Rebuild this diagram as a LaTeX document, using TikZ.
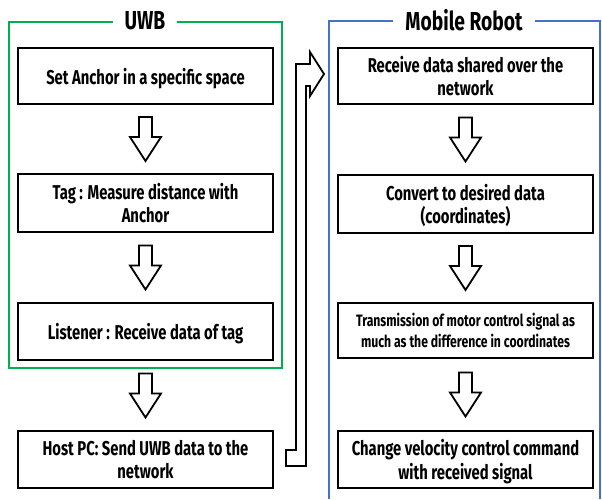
\documentclass[tikz,border=0pt]{standalone}
\usepackage{fontspec}
\setmainfont{Fira Sans}[FakeStretch=0.74]
\usetikzlibrary{calc}
\definecolor{uwbgreen}{RGB}{0,176,80}
\definecolor{robotblue}{RGB}{68,114,196}
\tikzset{
  stepbox/.style={draw, line width=2pt, minimum width=255pt, minimum height=56pt,
    align=center, inner sep=2pt, text depth=0pt, font=\bfseries\fontsize{20}{23.5}\selectfont},
  smalltext/.style={font=\bfseries\fontsize{16.5}{21.5}\selectfont},
  frametitle/.style={fill=white, inner xsep=12pt, font=\bfseries\fontsize{26}{30}\selectfont},
  hollowdown/.pic={
    \draw[line width=1.8pt, fill=white] (-6.5,-22) -- (6.5,-22) -- (6.5,-2) -- (15.5,-2)
      -- (0,22) -- (-15.5,-2) -- (-6.5,-2) -- cycle;
  }
}
\begin{document}
\begin{tikzpicture}[x=1pt, y=-1pt]
  \useasboundingbox (0,0) rectangle (602,499);

  % UWB side
  \draw[uwbgreen, line width=2.5pt] (9,22) rectangle (282,368);
  \node[frametitle] (uwb) at (145,21) {UWB};

  \node[stepbox] (anchor) at (145.5,76) {Set Anchor in a specific space};
  \node[stepbox, minimum height=58pt] (tag) at (145.5,203) {Tag : Measure distance with\\Anchor};
  \node[stepbox, minimum height=57pt] (listener) at (145.5,331.5) {Listener : Receive data of tag};
  \node[stepbox, minimum height=57pt] (host) at (145.5,459.5) {Host PC: Send UWB data to the\\network};

  \pic at ($(anchor.south)!0.5!(tag.north)$) {hollowdown};
  \pic at ($(tag.south)!0.5!(listener.north)$) {hollowdown};
  \pic at ($(listener.south)!0.5!(host.north)$) {hollowdown};

  % Mobile robot side
  \draw[robotblue, line width=2pt] (329,499) -- (329,21) -- (600,21) -- (600,499);
  \node[frametitle] (robot) at (464,20) {Mobile Robot};

  \node[stepbox] (receive) at (465.5,76) {Receive data shared over the\\network};
  \node[stepbox, minimum height=58pt] (convert) at (465.5,204) {Convert to desired data\\(coordinates)};
  \node[stepbox, minimum height=55pt, smalltext] (motor) at (465.5,330.5) {Transmission of motor control signal as\\much as the difference in coordinates};
  \node[stepbox, minimum height=57pt] (velocity) at (465.5,459.5) {Change velocity control command\\with received signal};

  \pic at ($(receive.south)!0.5!(convert.north)$) {hollowdown};
  \pic at ($(convert.south)!0.5!(motor.north)$) {hollowdown};
  \pic at ($(motor.south)!0.5!(velocity.north)$) {hollowdown};

  % bent arrow from host to robot
  \coordinate (foot) at ($(host.east)+(12,-9.5)$);
  \coordinate (tip) at ($(receive.west)+(-13,-2)$);
  \draw[line width=1.8pt, fill=white] (foot) -- ++(10,0) |- ($(tip)+(-14,-10)$) -- ++(0,-12)
    -- (tip) -- ++(-14,22) -- ++(0,-10) -| ($(foot)+(20,16)$) -- ++(-20,0) -- cycle;
\end{tikzpicture}
\end{document}
